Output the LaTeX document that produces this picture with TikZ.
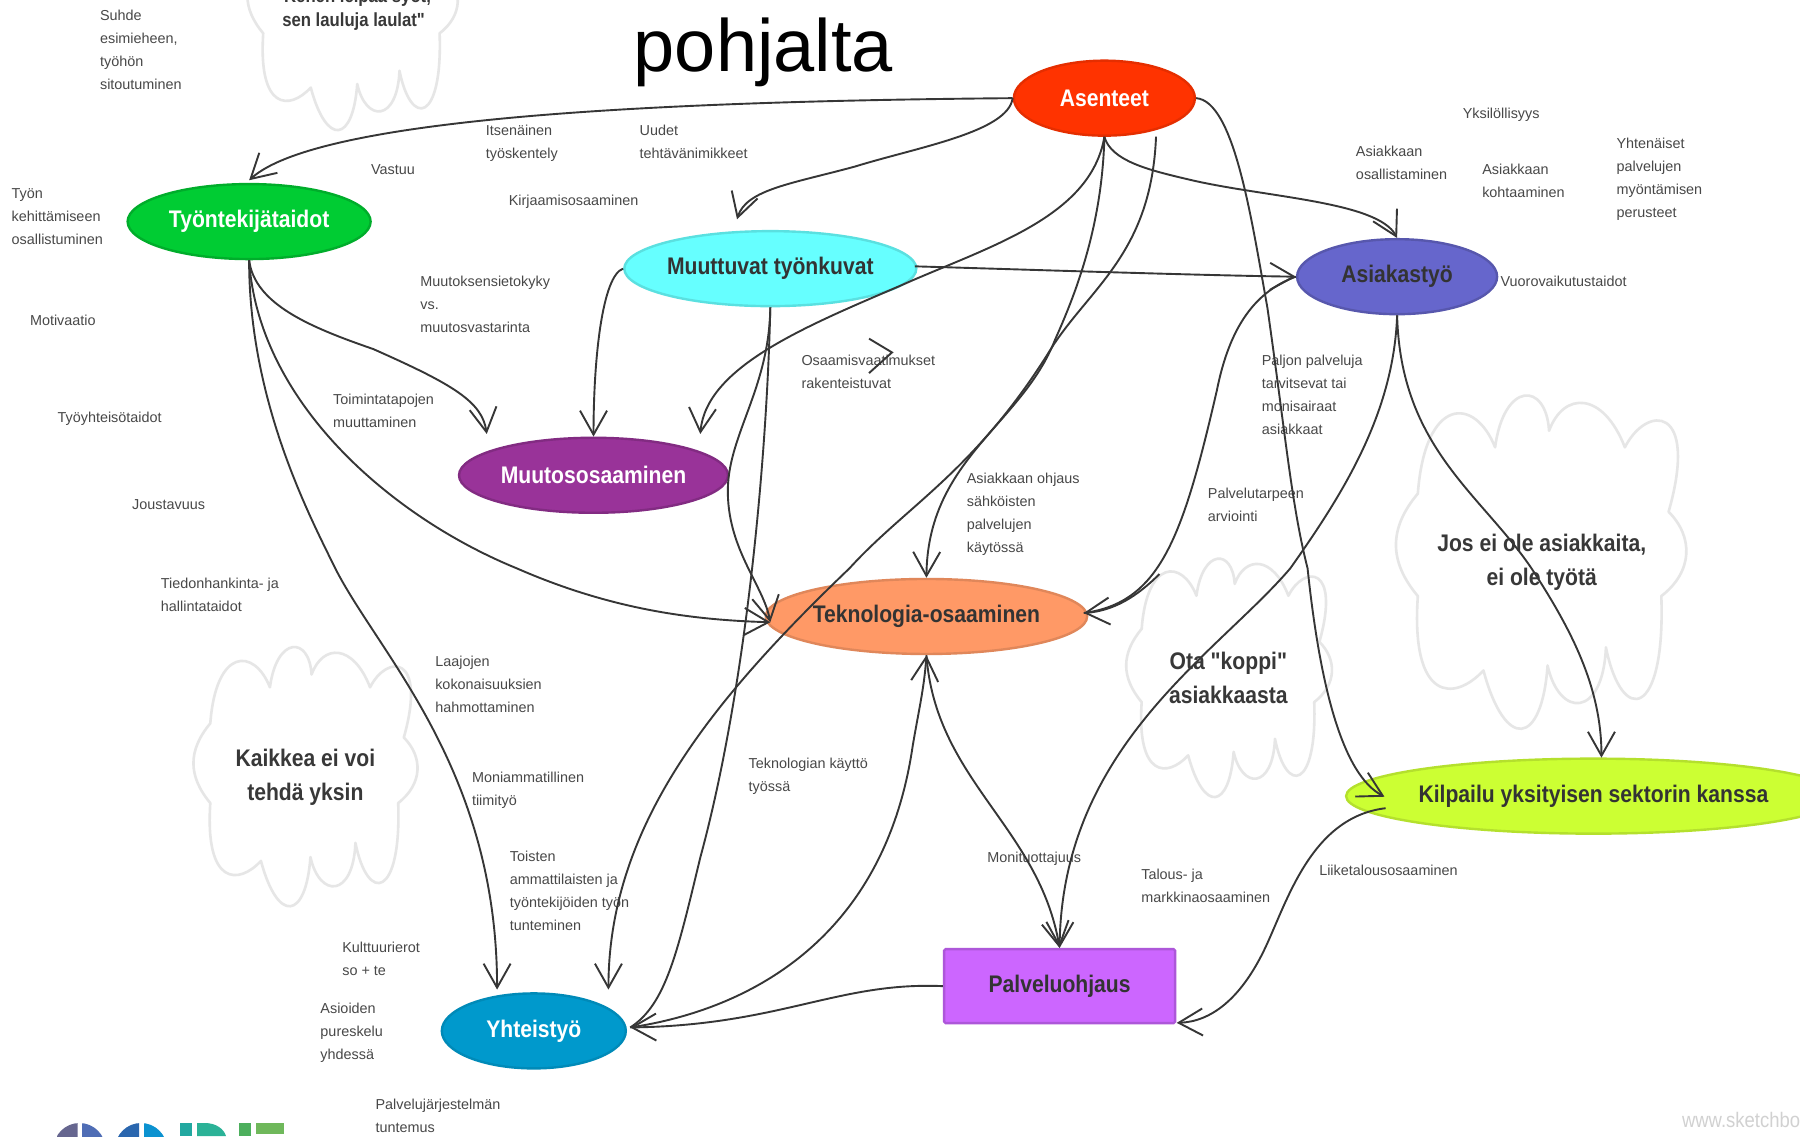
\documentclass[tikz,border=0pt]{standalone}
\usepackage{fontspec}
\setmainfont{Liberation Sans}
\newfontfamily\nf[FakeStretch=0.88]{Liberation Sans}
\usetikzlibrary{arrows.meta,shapes.geometric}
\definecolor{linec}{HTML}{363636}
\definecolor{lblc}{HTML}{484848}
\definecolor{cloudc}{HTML}{E6E6E6}
\definecolor{cgreen}{HTML}{00CC33}
\definecolor{cred}{HTML}{FF3300}
\definecolor{ccyan}{HTML}{66FFFF}
\definecolor{cblue}{HTML}{6666CC}
\definecolor{cpurple}{HTML}{993399}
\definecolor{corange}{HTML}{FF9966}
\definecolor{clime}{HTML}{CCFF33}
\definecolor{csea}{HTML}{0099CC}
\definecolor{cviolet}{HTML}{CC66FF}
\newcommand{\cloudshape}[4]{%
  \begin{scope}[shift={(#1,#2)},x=#3*1.148pt,y=-#4*1.148pt]
  \draw[cloudc,line width=2.6pt,line join=round]
   (-.85,-.41) .. controls (-.8,-1.0) and (-.46,-1.0) .. (-.32,-.69)
   .. controls (-.26,-1.09) and (.03,-1.09) .. (.05,-.79)
   .. controls (.15,-1.03) and (.42,-1.03) .. (.57,-.69)
   .. controls (.72,-.95) and (1.08,-.95) .. (.87,-.30)
   .. controls (1.04,-.15) and (1.04,.06) .. (.82,.21)
   .. controls (.85,.95) and (.55,1.0) .. (.44,.52)
   .. controls (.42,.95) and (.12,.95) .. (.04,.63)
   .. controls (.0,1.12) and (-.25,1.15) .. (-.40,.66)
   .. controls (-.6,.85) and (-.9,.85) .. (-.85,.21)
   .. controls (-1.05,0) and (-1.05,-.2) .. cycle;
  \end{scope}}
\tikzset{
  x=1.148pt,y=-1.148pt,
  ell/.style={ellipse,inner sep=0pt,minimum height=75pt,line width=2.4pt,
    font=\nf\fontsize{24}{28}\selectfont\bfseries},
  wtext/.style={text=white},
  dtext/.style={text=black!80},
  lbl/.style={anchor=north west,inner sep=0pt,align=left,text=lblc,
    font=\fontsize{14.4}{23}\selectfont},
  cloudtext/.style={align=center,text=black!78,inner sep=0pt,
    font=\nf\fontsize{24}{34}\selectfont\bfseries},
  conn/.style={draw=linec,line width=1.9pt,
    -{Straight Barb[length=24pt,width=27pt,line width=1.9pt]}},
  plainconn/.style={draw=linec,line width=1.9pt},
}
\begin{document}
\begin{tikzpicture}
\useasboundingbox (0pt,0pt) rectangle (1800pt,-1136pt);
\clip (0pt,0pt) rectangle (1800pt,-1136pt);
\fill[white] (0pt,0pt) rectangle (1800pt,-1136pt);

% clouds
\cloudshape{266.5}{676}{98}{112}
\cloudshape{1071}{590}{90}{103}
\cloudshape{1343}{489}{127}{144}
\cloudshape{307.5}{7}{92}{105}

% title and watermark
\node[anchor=base,inner sep=0pt,text=black,font=\fontsize{74}{80}\selectfont] (title) at (665,62) {pohjalta};
\node[anchor=west,inner sep=0pt,text=black!18,font=\nf\fontsize{21}{24}\selectfont] (wm) at (1465,976) {www.sketchbo};

% logo
\fill[white] (0pt,-1100pt) rectangle (1pt,-1101pt);
\begin{scope}
 \clip (57pt,-1100pt) rectangle (77.5pt,-1136pt); \fill[fill=black!20!blue!20!gray] (79.5pt,-1149pt) circle (26pt);
\end{scope}
\begin{scope}
 \clip (82pt,-1100pt) rectangle (105pt,-1136pt); \fill[fill={rgb,255:red,79;green,109;blue,181}] (79.5pt,-1149pt) circle (26pt);
\end{scope}
\begin{scope}
 \clip (110pt,-1100pt) rectangle (139pt,-1136pt); \fill[fill={rgb,255:red,42;green,102;blue,174}] (141pt,-1149pt) circle (26pt);
\end{scope}
\begin{scope}
 \clip (144pt,-1100pt) rectangle (170pt,-1136pt); \fill[fill={rgb,255:red,12;green,146;blue,208}] (141pt,-1149pt) circle (26pt);
\end{scope}
\fill[fill={rgb,255:red,34;green,168;blue,160}] (180pt,-1123pt) rectangle (192pt,-1136pt);
\fill[fill={rgb,255:red,43;green,178;blue,151}] (197pt,-1123pt) -- (205pt,-1123pt) .. controls (216pt,-1123pt) and (224pt,-1129pt) .. (226pt,-1136pt) -- (197pt,-1136pt) -- cycle;
\fill[fill={rgb,255:red,77;green,175;blue,93}] (239pt,-1123pt) rectangle (251pt,-1136pt);
\fill[fill={rgb,255:red,111;green,184;blue,91}] (256pt,-1123pt) rectangle (284pt,-1134pt);

% cloud texts
\node[cloudtext] (t1) at (266,677.5) {Kaikkea ei voi\\tehdä yksin};
\node[cloudtext] (t2) at (1070,590.5) {Ota "koppi"\\asiakkaasta};
\node[cloudtext] (t3) at (1343,490) {Jos ei ole asiakkaita,\\ei ole työtä};
\node[cloudtext,font=\nf\fontsize{19}{24}\selectfont\bfseries] (t4) at (308,8) {"Kenen leipää syöt,\\sen lauluja laulat"};

% labels
\node[lbl] (l1) at (87,9) {Suhde\\esimieheen,\\työhön\\sitoutuminen};
\node[lbl] (l2) at (10,164) {Työn\\kehittämiseen\\osallistuminen};
\node[lbl] (l3) at (26,274) {Motivaatio};
\node[lbl] (l4) at (50,359) {Työyhteisötaidot};
\node[lbl] (l5) at (115,435) {Joustavuus};
\node[lbl] (l6) at (140,503) {Tiedonhankinta- ja\\hallintataidot};
\node[lbl] (l7) at (323,143) {Vastuu};
\node[lbl] (l8) at (423,109) {Itsenäinen\\työskentely};
\node[lbl] (l9) at (557,109) {Uudet\\tehtävänimikkeet};
\node[lbl] (l10) at (443,170) {Kirjaamisosaaminen};
\node[lbl] (l11) at (366,240) {Muutoksensietokyky\\vs.\\muutosvastarinta};
\node[lbl] (l12) at (290,343) {Toimintatapojen\\muuttaminen};
\node[lbl] (l13) at (698,309) {Osaamisvaatimukset\\rakenteistuvat};
\node[lbl] (l14) at (842,412) {Asiakkaan ohjaus\\sähköisten\\palvelujen\\käytössä};
\node[lbl] (l15) at (1099,309) {Paljon palveluja\\tarvitsevat tai\\monisairaat\\asiakkaat};
\node[lbl] (l16) at (1052,425) {Palvelutarpeen\\arviointi};
\node[lbl] (l17) at (1274,94) {Yksilöllisyys};
\node[lbl] (l18) at (1181,127) {Asiakkaan\\osallistaminen};
\node[lbl] (l19) at (1291,143) {Asiakkaan\\kohtaaminen};
\node[lbl] (l20) at (1408,120) {Yhtenäiset\\palvelujen\\myöntämisen\\perusteet};
\node[lbl] (l21) at (1307,240) {Vuorovaikutustaidot};
\node[lbl] (l22) at (379,571) {Laajojen\\kokonaisuuksien\\hahmottaminen};
\node[lbl] (l23) at (411,672) {Moniammatillinen\\tiimityö};
\node[lbl] (l24) at (444,741) {Toisten\\ammattilaisten ja\\työntekijöiden työn\\tunteminen};
\node[lbl] (l25) at (652,660) {Teknologian käyttö\\työssä};
\node[lbl] (l26) at (298,820) {Kulttuurierot\\so + te};
\node[lbl] (l27) at (279,874) {Asioiden\\pureskelu\\yhdessä};
\node[lbl] (l28) at (327,957) {Palvelujärjestelmän\\tuntemus};
\node[lbl] (l29) at (860,742) {Monituottajuus};
\node[lbl] (l30) at (994,757) {Talous- ja\\markkinaosaaminen};
\node[lbl] (l31) at (1149,753) {Liiketalousosaaminen};

% main nodes
\node[ell,wtext,fill=cgreen,draw=cgreen!85!black,minimum width=243pt] (ty) at (217,193) {Työntekijätaidot};
\node[ell,wtext,fill=cred,draw=cred!90!black,minimum width=181pt] (as) at (962,85.5) {Asenteet};
\node[ell,dtext,fill=ccyan,draw=ccyan!88!black,minimum width=285pt] (mt) at (671,234) {Muuttuvat työnkuvat};
\node[ell,dtext,fill=cblue,draw=cblue!85!black,minimum width=200pt] (ak) at (1217,241) {Asiakastyö};
\node[ell,wtext,fill=cpurple,draw=cpurple!85!black,minimum width=269pt] (ms) at (517,414) {Muutososaaminen};
\node[ell,dtext,fill=corange,draw=corange!88!black,minimum width=308pt] (te) at (807,537) {Teknologia-osaaminen};
\node[ell,dtext,fill=clime,draw=clime!88!black,minimum width=413pt] (ki) at (1388,693.5) {Kilpailu yksityisen sektorin kanssa};
\node[ell,wtext,fill=csea,draw=csea!90!black,minimum width=184pt] (ye) at (465,898) {Yhteistyö};
\node[rectangle,rounded corners=1.5pt,fill=cviolet,draw=cviolet!85!black,line width=2.4pt,
  minimum width=231pt,minimum height=74pt,inner sep=0pt,dtext,
  font=\nf\fontsize{24}{28}\selectfont\bfseries] (pa) at (923,859) {Palveluohjaus};

% free ends
\coordinate (asB) at (1007,119);
\coordinate (tyIn) at (217,157);
\coordinate (mtIn) at (642,191);
\coordinate (msL) at (424,378);
\coordinate (msR) at (610,378);
\coordinate (yeL) at (433,862);
\coordinate (yeR) at (530,862);
\coordinate (yeE) at (549,895);
\coordinate (kiN) at (1395,660);
\coordinate (kiW) at (1206,694);
\coordinate (kiW2) at (1207,704);
\coordinate (teW) at (671,542);
\coordinate (teE) at (944,534);
\coordinate (paSE) at (1025,891);
\coordinate (mtE) at (797,232);
\coordinate (chevA) at (757,295);
\coordinate (chevB) at (777,307);
\coordinate (chevC) at (757,325);

% connectors
\draw[conn] (as.west) .. controls (600,88) and (280,100) .. (tyIn);
\draw[conn] (as.west) .. controls (878,115) and (800,128) .. (745,145) .. controls (690,160) and (650,165) .. (mtIn);
\draw[conn] (as.south) .. controls (950,190) and (860,215) .. (784,249) .. controls (700,285) and (615,320) .. (msR);
\draw[conn] (as.south) .. controls (960,200) and (935,260) .. (919,296) .. controls (890,370) and (808,400) .. (te.north);
\draw[conn] (asB) .. controls (1003,220) and (950,250) .. (916,303) .. controls (850,410) and (790,440) .. (740,495) .. controls (620,610) and (530,720) .. (yeR);
\draw[conn] (as.south) .. controls (968,140) and (1000,148) .. (1034,156) .. controls (1100,172) and (1200,175) .. (ak.north);
\draw[conn] (as.east) .. controls (1075,88) and (1090,190) .. (1104,268) .. controls (1120,380) and (1125,440) .. (1139,495) .. controls (1150,600) and (1170,675) .. (kiW);
\draw[conn] (mtE) .. controls (900,235) and (1050,240) .. (ak.west);
\draw[conn] (mt.west) .. controls (525,240) and (517,310) .. (ms.north);
\draw[conn] (mt.south) .. controls (670,340) and (633,380) .. (634,430) .. controls (635,480) and (665,510) .. (teW);
\draw[plainconn] (mt.south) .. controls (668,400) and (650,600) .. (610,747) .. controls (590,830) and (580,875) .. (yeE);
\draw[conn] (ty.south) .. controls (222,265) and (270,285) .. (325,304) .. controls (395,335) and (420,350) .. (msL);
\draw[conn] (ty.south) .. controls (225,350) and (340,450) .. (450,495) .. controls (530,530) and (600,540) .. (teW);
\draw[conn] (ty.south) .. controls (217,350) and (270,450) .. (292,495) .. controls (330,570) and (433,670) .. (yeL);
\draw[plainconn] (ak.west) .. controls (1090,255) and (1070,290) .. (1060,340) .. controls (1030,470) and (1010,525) .. (teE);
\draw[draw=linec,line width=1.9pt,-{Straight Barb[length=24pt,width=27pt,line width=1.9pt]}] (1010,500) .. controls (990,520) and (970,532) .. (teE);
\draw[conn] (ak.south) .. controls (1214,360) and (1170,430) .. (1124,495) .. controls (1060,570) and (925,650) .. (pa.north);
\draw[conn] (ak.south) .. controls (1220,390) and (1290,430) .. (1334,495) .. controls (1370,550) and (1395,600) .. (kiN);
\draw[conn] (te.south) .. controls (815,680) and (905,720) .. (pa.north);
\draw[conn] (yeE) .. controls (650,880) and (770,820) .. (795,650) .. controls (800,620) and (805,600) .. (te.south);
\draw[conn] (pa.west) .. controls (730,855) and (680,893) .. (yeE);
\draw[conn] (kiW2) .. controls (1140,712) and (1120,790) .. (1100,830) .. controls (1080,870) and (1055,890) .. (paSE);
\draw[plainconn] (chevA) -- (chevB) -- (chevC);
\end{tikzpicture}
\end{document}
